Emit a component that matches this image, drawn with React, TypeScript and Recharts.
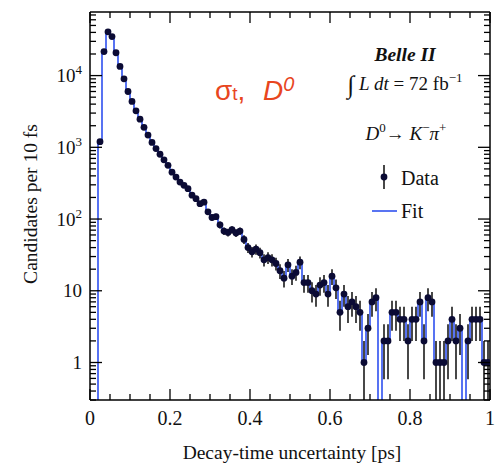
import { ComposedChart, Line, XAxis, YAxis, ErrorBar } from 'recharts';

// 10 fs bins from 0 to 1 ps
const BIN_WIDTH = 0.01;

// candidates per bin
const counts = [
  0, 0, 1200, 21600, 40800, 35000, 20800, 13400, 9000, 6000,
  4360, 3230, 2470, 1900, 1480, 1170, 960, 800, 670, 560,
  450, 385, 328, 295, 265, 215, 192, 164, 172, 126,
  105, 108, 83, 68, 65, 71, 64, 68, 52, 40,
  35, 38, 34, 27, 29, 27, 24, 19, 15, 23,
  16, 18, 25, 13, 13, 10, 9, 12, 13, 9,
  16, 11, 5, 9, 6, 7, 6, 5, 1, 3,
  7, 8, 0, 2, 2, 5, 5, 4, 4, 2,
  4, 4, 7, 2, 8, 7, 1, 1, 1, 2,
  4, 2, 3, 0, 2, 4, 4, 4, 1, 1,
];

// fit template, same binning
const fitCounts = [
  0, 0, 1200, 21600, 40800, 35000, 20800, 13400, 9000, 6000,
  4360, 3230, 2470, 1900, 1480, 1170, 960, 800, 670, 560,
  450, 385, 328, 295, 265, 215, 192, 164, 172, 126,
  105, 108, 83, 68, 65, 71, 64, 68, 52, 40,
  35, 38, 34, 27, 29, 27, 24, 19, 15, 23,
  16, 18, 25, 13, 13, 10, 9, 12, 13, 9,
  16, 11, 5, 9, 6, 7, 6, 5, 1, 3,
  7, 8, 0, 2, 2, 5, 5, 4, 4, 2,
  4, 4, 7, 2, 8, 7, 1, 1, 1, 2,
  4, 2, 3, 0, 2, 4, 4, 4, 1, 1,
];

const xMajor = [0, 0.2, 0.4, 0.6, 0.8, 1];
const xMajorLabels = ['0', '0.2', '0.4', '0.6', '0.8', '1'];
const yMajor = [1, 10, 100, 1000, 10000];
const yMajorLabels = [['1', ''], ['10', ''], ['10', '2'], ['10', '3'], ['10', '4']];

const Y_MIN = 0.3;
const Y_MAX = 77000;
const BELOW = 0.01; // empty fit bins drop under the axis

const BLUE = '#3b5bf0';
const RED = '#e8461e';
const DOT = '#0b0b34';
const SERIF = '"Liberation Serif", "Times New Roman", serif';
const SANS = '"Liberation Sans", Arial, sans-serif';

const rows = counts.map((n, i) => ({
  t: (i + 0.5) * BIN_WIDTH,
  count: n > 0 ? n : null,
  err: n > 0 ? [Math.min(Math.sqrt(n), n - Y_MIN), Math.sqrt(n)] : null,
  fit: fitCounts[i] > 0 ? fitCounts[i] : BELOW,
}));

const xTicks = Array.from({ length: 21 }, (_, i) => +(i * 0.05).toFixed(2));
const yTicks: number[] = [];
[0.1, 1, 10, 100, 1000, 10000].forEach((d) => {
  for (let m = 1; m <= 9; m++) {
    const v = +(m * d).toPrecision(3);
    if (v >= Y_MIN && v <= Y_MAX) yTicks.push(v);
  }
});

const majorIndex = (list: number[], v: number) =>
  list.findIndex((m) => Math.abs(m - v) < 1e-6 * Math.max(1, m));

const XTick = (props: any) => {
  const { x, y, payload, side } = props;
  const idx = majorIndex(xMajor, payload.value);
  const len = idx >= 0 ? 11 : 6;
  const dir = side === 'bottom' ? -1 : 1;
  return (
    <g>
      <line x1={x} y1={y} x2={x} y2={y + dir * len} stroke="#000" strokeWidth={1.3} />
      {side === 'bottom' && idx >= 0 && (
        <text x={x} y={y + 25} textAnchor="middle" fontFamily={SERIF} fontSize={20} fill="#111">
          {xMajorLabels[idx]}
        </text>
      )}
    </g>
  );
};

const YTick = (props: any) => {
  const { x, y, payload, side } = props;
  const idx = majorIndex(yMajor, payload.value);
  const len = idx >= 0 ? 12 : 6;
  const dir = side === 'left' ? 1 : -1;
  return (
    <g>
      <line x1={x} y1={y} x2={x + dir * len} y2={y} stroke="#000" strokeWidth={1.3} />
      {side === 'left' && idx >= 0 && (
        <text x={x - 8} y={y + 6.5} textAnchor="end" fontFamily={SERIF} fontSize={19} fill="#111">
          {yMajorLabels[idx][0]}
          {yMajorLabels[idx][1] && (
            <tspan dy={-8} fontSize={13}>
              {yMajorLabels[idx][1]}
            </tspan>
          )}
        </text>
      )}
    </g>
  );
};

const axisLine = { stroke: '#000', strokeWidth: 1.5 };

export default function App() {
  return (
    <div style={{ position: 'absolute', left: 0, top: 0, width: 495, height: 464, background: '#fff' }}>
      <ComposedChart width={495} height={464} data={rows} margin={{ top: 0, right: 0, bottom: 0, left: 0 }}>
        <XAxis
          xAxisId="bottom"
          dataKey="t"
          type="number"
          domain={[0, 1]}
          allowDataOverflow
          ticks={xTicks}
          interval={0}
          height={64}
          tickSize={0}
          tickMargin={0}
          tickLine={false}
          axisLine={axisLine}
          tick={(p: any) => <XTick {...p} side="bottom" />}
        />
        <XAxis
          xAxisId="top"
          orientation="top"
          dataKey="t"
          type="number"
          domain={[0, 1]}
          allowDataOverflow
          ticks={xTicks}
          interval={0}
          height={12}
          tickSize={0}
          tickMargin={0}
          tickLine={false}
          axisLine={axisLine}
          tick={(p: any) => <XTick {...p} side="top" />}
        />
        <YAxis
          yAxisId="left"
          type="number"
          scale="log"
          domain={[Y_MIN, Y_MAX]}
          allowDataOverflow
          ticks={yTicks}
          interval={0}
          width={90}
          tickSize={0}
          tickMargin={0}
          tickLine={false}
          axisLine={axisLine}
          tick={(p: any) => <YTick {...p} side="left" />}
        />
        <YAxis
          yAxisId="right"
          orientation="right"
          type="number"
          scale="log"
          domain={[Y_MIN, Y_MAX]}
          allowDataOverflow
          ticks={yTicks}
          interval={0}
          width={5}
          tickSize={0}
          tickMargin={0}
          tickLine={false}
          axisLine={axisLine}
          tick={(p: any) => <YTick {...p} side="right" />}
        />
        <Line
          xAxisId="bottom"
          yAxisId="left"
          dataKey="count"
          stroke="none"
          strokeWidth={0}
          dot={{ r: 3.4, fill: DOT, stroke: 'none' }}
          activeDot={false}
          isAnimationActive={false}
        >
          <ErrorBar dataKey="err" direction="y" width={0} stroke="#1a1a1a" strokeWidth={1.6} isAnimationActive={false} />
        </Line>
        <Line
          xAxisId="bottom"
          yAxisId="left"
          dataKey="fit"
          type="step"
          stroke={BLUE}
          strokeWidth={1.7}
          dot={false}
          activeDot={false}
          isAnimationActive={false}
        />
      </ComposedChart>

      <svg
        width={495}
        height={464}
        style={{ position: 'absolute', left: 0, top: 0, pointerEvents: 'none' }}
        fontFamily={SERIF}
        fill="#111"
      >
        <text transform="translate(37,204) rotate(-90)" textAnchor="middle" fontSize={19.5}>
          Candidates per 10 fs
        </text>
        <text x={292} y={459} textAnchor="middle" fontSize={19.5}>
          Decay-time uncertainty [ps]
        </text>

        <text x={215} y={100} fill={RED} fontFamily={SANS} fontSize={28}>
          σ<tspan fontSize={19}>t</tspan>,
        </text>
        <text x={263} y={100} fill={RED} fontFamily={SANS} fontSize={28} fontStyle="italic">
          D<tspan fontSize={20} dy={-9}>0</tspan>
        </text>

        <text x={405} y={61} textAnchor="middle" fontSize={19.5} fontWeight="bold" fontStyle="italic">
          Belle II
        </text>
        <text x={405} y={90} textAnchor="middle" fontSize={19}>
          <tspan fontSize={25} dy={3}>∫</tspan>
          <tspan dy={-3} fontStyle="italic"> L dt</tspan> = 72 fb
          <tspan fontSize={13} dy={-8}>−1</tspan>
        </text>
        <text x={406} y={140} textAnchor="middle" fontSize={19}>
          <tspan fontStyle="italic">D</tspan>
          <tspan fontSize={13} dy={-8}>0</tspan>
          <tspan dy={8}>→ </tspan>
          <tspan fontStyle="italic">K</tspan>
          <tspan fontSize={13} dy={-8}>−</tspan>
          <tspan dy={8} fontStyle="italic">π</tspan>
          <tspan fontSize={13} dy={-8}>+</tspan>
        </text>

        <line x1={384} y1={165} x2={384} y2={189} stroke="#1a1a1a" strokeWidth={1.6} />
        <circle cx={384} cy={177} r={3.4} fill={DOT} />
        <text x={401} y={185} fontSize={20}>Data</text>
        <line x1={372} y1={211} x2={397} y2={211} stroke={BLUE} strokeWidth={1.7} />
        <text x={401} y={218} fontSize={20}>Fit</text>
      </svg>
    </div>
  );
}
